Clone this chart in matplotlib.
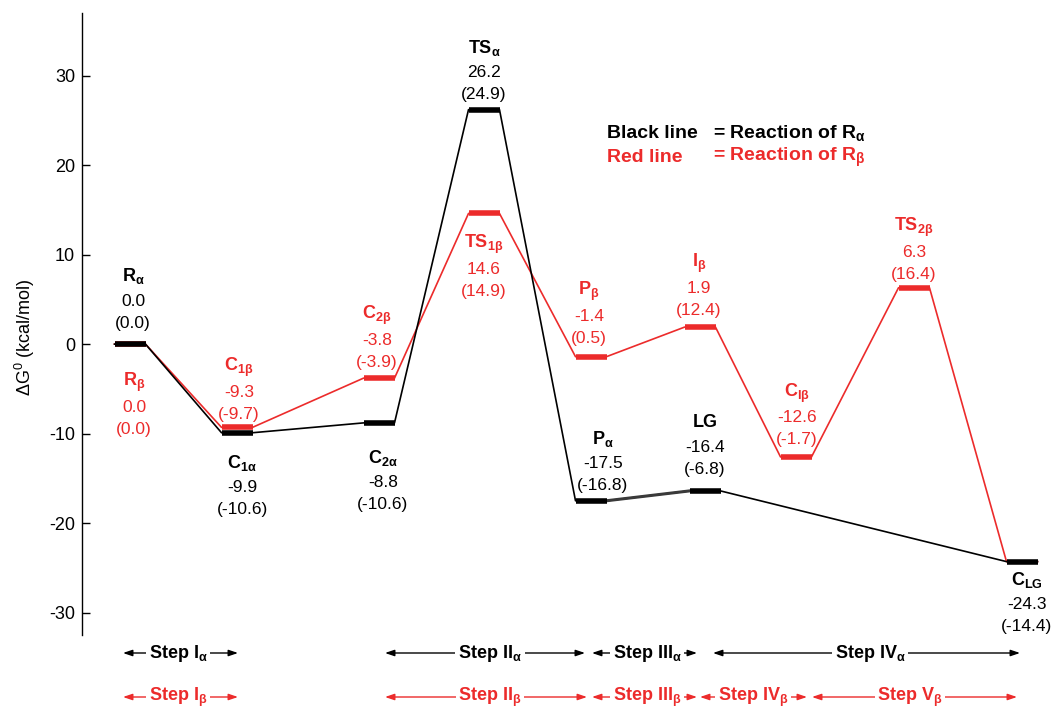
import matplotlib
matplotlib.use("Agg")
import matplotlib.pyplot as plt
from matplotlib.transforms import blended_transform_factory

plt.rcParams["font.family"] = ["Liberation Sans", "DejaVu Sans"]
plt.rcParams["mathtext.fontset"] = "custom"
plt.rcParams["mathtext.rm"] = "Liberation Sans"
plt.rcParams["mathtext.it"] = "Liberation Sans:italic"
plt.rcParams["mathtext.bf"] = "Liberation Sans:bold"

RED = "#EC2B2B"
BLACK = "#000000"

# ---------------- data ----------------
# Reaction of R_alpha (black path)
alpha_states = ["R", "C1", "C2", "TS1", "P", "LG", "CLG"]
alpha_names = [r"R$_{\mathbf{\alpha}}$", r"C$_{\mathbf{1\alpha}}$", r"C$_{\mathbf{2\alpha}}$",
               r"TS$_{\mathbf{\alpha}}$", r"P$_{\mathbf{\alpha}}$", "LG", r"C$_{\mathbf{LG}}$"]
alpha_dG = [0.0, -9.9, -8.8, 26.2, -17.5, -16.4, -24.3]
alpha_alt = [0.0, -10.6, -10.6, 24.9, -16.8, -6.8, -14.4]

# Reaction of R_beta (red path); it ends on the shared C_LG level
beta_states = ["R", "C1", "C2", "TS1", "P", "I", "CI", "TS2", "CLG"]
beta_names = [r"R$_{\mathbf{\beta}}$", r"C$_{\mathbf{1\beta}}$", r"C$_{\mathbf{2\beta}}$",
              r"TS$_{\mathbf{1\beta}}$", r"P$_{\mathbf{\beta}}$", r"I$_{\mathbf{\beta}}$",
              r"C$_{\mathbf{I\beta}}$", r"TS$_{\mathbf{2\beta}}$", None]
beta_dG = [0.0, -9.3, -3.8, 14.6, -1.4, 1.9, -12.6, 6.3, -24.3]
beta_alt = [0.0, -9.7, -3.9, 14.9, 0.5, 12.4, -1.7, 16.4, None]

yticks = [-30, -20, -10, 0, 10, 20, 30]

alpha_steps = [(r"Step I$_{\mathbf{\alpha}}$", 123, 238, 178),
               (r"Step II$_{\mathbf{\alpha}}$", 385, 585, 490),
               (r"Step III$_{\mathbf{\alpha}}$", 592, 697, 647),
               (r"Step IV$_{\mathbf{\alpha}}$", 713, 1020, 870)]
beta_steps = [(r"Step I$_{\mathbf{\beta}}$", 123, 238, 178),
              (r"Step II$_{\mathbf{\beta}}$", 385, 587, 490),
              (r"Step III$_{\mathbf{\beta}}$", 592, 697, 647),
              (r"Step IV$_{\mathbf{\beta}}$", 700, 807, 753),
              (r"Step V$_{\mathbf{\beta}}$", 812, 1017, 910)]

# ---------------- layout ----------------
slot_x = {"R": 130, "C1": 237, "C2": 379, "TS1": 484, "P": 591, "LG": 705,
          "I": 700, "CI": 796, "TS2": 914, "CLG": 1022}
half_w = 15.5
# label block: (x shift, y offset of the first line in pixels, downwards positive)
alpha_lab = {"R": (3, -68), "C1": (5, 30), "C2": (4, 35), "TS1": (0, -62),
             "P": (12, -62), "LG": (0, -68), "CLG": (5, 18)}
beta_lab = {"R": (4, 38), "C1": (2, -60), "C2": (-2, -63), "TS1": (0, 31),
            "P": (-2, -65), "I": (-1, -64), "CI": (1, -64), "TS2": (0, -60)}

fig = plt.figure(figsize=(10.53, 7.10), dpi=100)
ax = fig.add_axes([82 / 1053, 1 - 635 / 710, 1 - 82 / 1053, 622 / 710])
ax.set_xlim(82, 1053)
ax.set_ylim(-32.5, 37.0)

for s in ["top", "right", "bottom"]:
    ax.spines[s].set_visible(False)
ax.spines["left"].set_linewidth(1.0)
ax.set_xticks([])
ax.set_yticks(yticks)
ax.set_yticklabels([str(t) for t in yticks])
ax.tick_params(axis="y", direction="in", length=6, width=1, labelsize=13, pad=5)

fig.text(25 / 1053, 1 - 337 / 710, r"$\Delta$G$^{0}$ (kcal/mol)", rotation=90,
         ha="center", va="center", fontsize=13)


def path(states, values):
    xs, ys = [], []
    for st, v in zip(states, values):
        x = slot_x[st]
        xs += [x - half_w, x + half_w]
        ys += [v, v]
    return xs, ys


# connecting lines
bx, by = path(beta_states, beta_dG)
ax.plot(bx, by, color=RED, lw=1.2, zorder=2)
axs, ays = path(alpha_states, alpha_dG)
ax.plot(axs, ays, color=BLACK, lw=1.2, zorder=3)
# the P_alpha -> LG leg
iP = alpha_states.index("P")
ax.plot(axs[2 * iP + 1:2 * iP + 3], ays[2 * iP + 1:2 * iP + 3], color="#3a3a3a",
        lw=2.2, zorder=3)

# energy levels
for st, v in zip(alpha_states, alpha_dG):
    x = slot_x[st]
    ax.plot([x - half_w, x + half_w], [v, v], color=BLACK, lw=4, solid_capstyle="butt", zorder=4)
for st, v, nm in zip(beta_states, beta_dG, beta_names):
    if nm is None:
        continue
    x = slot_x[st]
    z = 5 if st == "C1" else (3.5 if st == "R" else 4)
    ax.plot([x - half_w, x + half_w], [v, v], color=RED, lw=4, solid_capstyle="butt", zorder=z)


def label_block(st, name, v, alt, color, placement):
    dx, d = placement
    x = slot_x[st]
    lines = [(name, "bold", d), (f"{v:.1f}", "normal", d + 25), (f"({alt:.1f})", "normal", d + 47)]
    for txt, wt, dy in lines:
        ax.annotate(txt, xy=(x, v), xytext=(dx, -dy), textcoords="offset pixels",
                    ha="center", va="center", color=color, fontsize=13 if wt == "bold" else 12.5,
                    fontweight=wt, annotation_clip=False, zorder=6)


for st, nm, v, alt in zip(alpha_states, alpha_names, alpha_dG, alpha_alt):
    label_block(st, nm, v, alt, BLACK, alpha_lab[st])
for st, nm, v, alt in zip(beta_states, beta_names, beta_dG, beta_alt):
    if nm is None:
        continue
    label_block(st, nm, v, alt, RED, beta_lab[st])

# key
bt = blended_transform_factory(ax.transData, ax.transAxes)
ax.text(607, (635 - 133) / 622, "Black line", transform=bt, ha="left", va="center",
        fontsize=14, fontweight="bold", color=BLACK)
ax.text(713, (635 - 133) / 622, r"= Reaction of R$_{\mathbf{\alpha}}$", transform=bt, ha="left",
        va="center", fontsize=14, fontweight="bold", color=BLACK)
ax.text(607, (635 - 157) / 622, "Red line", transform=bt, ha="left", va="center",
        fontsize=14, fontweight="bold", color=RED)
ax.text(713, (635 - 157) / 622, r"= Reaction of R$_{\mathbf{\beta}}$", transform=bt, ha="left",
        va="center", fontsize=14, fontweight="bold", color=RED)


# step spans under the axis
def step_row(steps, yfrac, color):
    for label, x0, x1, xc in steps:
        ax.annotate("", xy=(x1, yfrac), xytext=(x0, yfrac), xycoords=bt, textcoords=bt,
                    arrowprops=dict(arrowstyle="<|-|>,head_length=0.5,head_width=0.17",
                                    color=color, lw=1.0, shrinkA=0, shrinkB=0,
                                    mutation_scale=11),
                    annotation_clip=False, zorder=6)
        ax.text(xc, yfrac, label, transform=bt, ha="center", va="center", fontsize=13,
                fontweight="bold", color=color, zorder=7,
                bbox=dict(boxstyle="square,pad=0.15", fc="white", ec="none"))


step_row(alpha_steps, (635 - 653) / 622, BLACK)
step_row(beta_steps, (635 - 697) / 622, RED)

fig.savefig("out.png", dpi=100, facecolor="white")
